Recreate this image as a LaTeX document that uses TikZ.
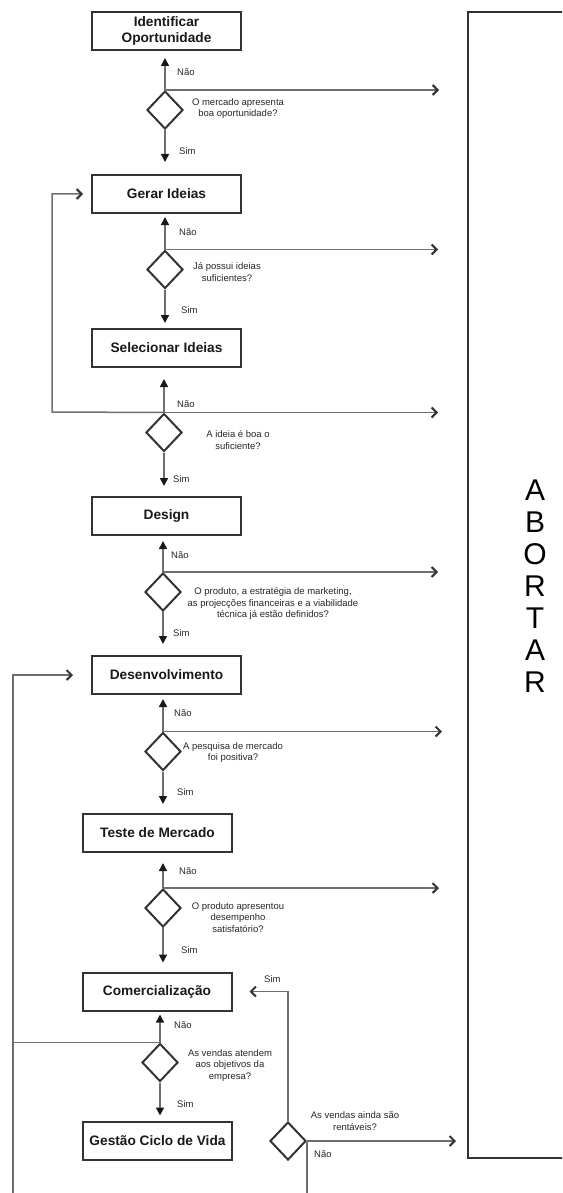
\documentclass[tikz,border=0pt]{standalone}
\usepackage{fontspec}
\setmainfont{Liberation Sans}
\usetikzlibrary{arrows.meta,shapes.geometric}
\definecolor{boxgray}{HTML}{333333}
\definecolor{linegray}{HTML}{6E6E6E}
\begin{document}
\begin{tikzpicture}[x=1pt,y=-1pt,
  stepbox/.style={draw=boxgray, line width=2pt, minimum width=149pt, minimum height=38pt, inner sep=0pt, font=\fontsize{13.7}{16}\selectfont\bfseries, align=center, text=black!90},
  decide/.style={draw=boxgray, line width=2pt, diamond, minimum width=36pt, minimum height=38pt, inner sep=0pt},
  conn/.style={draw=linegray, line width=1.5pt},
  fillarrow/.style={conn, -{Triangle[length=8pt,width=8pt,color=black!90]}},
  chev/.style={conn, -{Straight Barb[length=5pt,width=10pt,line width=2pt,color=black!80]}},
  lbl/.style={font=\fontsize{9.5}{11.5}\selectfont, anchor=west, inner sep=0pt, text=black!85},
  qtxt/.style={font=\fontsize{9.5}{11.5}\selectfont, align=center, inner sep=0pt, text=black!85},
]
\useasboundingbox (0,0) rectangle (562,1193);
\clip (0,0) rectangle (562,1193);

% ABORTAR box (right edge cut by the page)
\node[draw=boxgray, line width=2pt, minimum width=110pt, minimum height=1146pt, inner sep=0pt] (abbox) at (523,585) {};
\node[font=\fontsize{30}{32}\selectfont, align=center, inner sep=0pt] (abtxt) at (535,586.5) {A\\B\\O\\R\\T\\A\\R};

% step boxes
\node[stepbox] (b1) at (166.5,31) {Identificar\\Oportunidade};
\node[stepbox] (b2) at (166.5,194) {Gerar Ideias};
\node[stepbox] (b3) at (166.5,348) {Selecionar Ideias};
\node[stepbox] (b4) at (166.5,516) {Design};
\node[stepbox] (b5) at (166.5,675) {Desenvolvimento};
\node[stepbox] (b6) at (157.5,833) {Teste de Mercado};
\node[stepbox] (b7) at (157,991.5) {Comercialização};
\node[stepbox] (b8) at (157.5,1140.5) {Gestão Ciclo de Vida};

% decisions
\node[decide] (d1) at (165,110) {};
\node[decide] (d2) at (165,269.5) {};
\node[decide] (d3) at (164,432.5) {};
\node[decide] (d4) at (163,592) {};
\node[decide] (d5) at (163,751.5) {};
\node[decide] (d6) at (163,908) {};
\node[decide] (d7) at (160,1062.5) {};
\node[decide] (d8) at (288,1141) {};

% questions
\node[qtxt] (q1) at (238,108.5) {O mercado apresenta\\boa oportunidade?};
\node[qtxt] (q2) at (227,272) {Já possui ideias\\suficientes?};
\node[qtxt] (q3) at (238,440) {A ideia é boa o\\suficiente?};
\node[qtxt] (q4) at (273,603.5) {O produto, a estratégia de marketing,\\as projecções financeiras e a viabilidade\\técnica já estão definidos?};
\node[qtxt] (q5) at (233,752.5) {A pesquisa de mercado\\foi positiva?};
\node[qtxt] (q6) at (238,917.5) {O produto apresentou\\desempenho\\satisfatório?};
\node[qtxt] (q7) at (230,1065.5) {As vendas atendem\\aos objetivos da\\empresa?};
\node[qtxt] (q8) at (355,1121) {As vendas ainda são\\rentáveis?};

% labels
\node[lbl] (n1) at (177,72) {Não};
\node[lbl] (n2) at (179,232) {Não};
\node[lbl] (n3) at (177,404) {Não};
\node[lbl] (n4) at (171,555) {Não};
\node[lbl] (n5) at (174,713) {Não};
\node[lbl] (n6) at (179,871) {Não};
\node[lbl] (n7) at (174,1025) {Não};
\node[lbl] (n8) at (314,1154) {Não};
\node[lbl] (s1) at (179,151) {Sim};
\node[lbl] (s2) at (181,310) {Sim};
\node[lbl] (s3) at (173,479) {Sim};
\node[lbl] (s4) at (173,633) {Sim};
\node[lbl] (s5) at (177,792) {Sim};
\node[lbl] (s6) at (181,950) {Sim};
\node[lbl] (s7) at (177,1104) {Sim};
\node[lbl] (s8) at (264,979) {Sim};

% free-end coordinates
\coordinate (loopa) at (52,412);
\coordinate (loopb) at (13,1193);
\coordinate (d8end) at (307,1193);

% Não arrows (up)
\draw[fillarrow, shorten >=7pt] (d1.north) -- (d1.north |- b1.south);
\draw[fillarrow, shorten >=3pt] (d2.north) -- (d2.north |- b2.south);
\draw[fillarrow, shorten >=11pt] (d3.north) -- (d3.north |- b3.south);
\draw[fillarrow, shorten >=5pt] (d4.north) -- (d4.north |- b4.south);
\draw[fillarrow, shorten >=4pt] (d5.north) -- (d5.north |- b5.south);
\draw[fillarrow, shorten >=10pt] (d6.north) -- (d6.north |- b6.south);
\draw[fillarrow, shorten >=3pt] (d7.north) -- (d7.north |- b7.south);

% Sim arrows (down)
\draw[fillarrow, shorten >=12pt] (d1.south) -- (d1.south |- b2.north);
\draw[fillarrow, shorten >=5pt] (d2.south) -- (d2.south |- b3.north);
\draw[fillarrow, shorten >=10pt] (d3.south) -- (d3.south |- b4.north);
\draw[fillarrow, shorten >=11pt] (d4.south) -- (d4.south |- b5.north);
\draw[fillarrow, shorten >=9pt] (d5.south) -- (d5.south |- b6.north);
\draw[fillarrow, shorten >=9pt] (d6.south) -- (d6.south |- b7.north);
\draw[fillarrow, shorten >=5pt] (d7.south) -- (d7.south |- b8.north);

% abort arrows
\draw[chev, shorten >=28pt] (d1.north) -- (d1.north -| abbox.west);
\draw[chev, shorten >=29pt] (d2.north) -- (d2.north -| abbox.west);
\draw[chev, shorten >=29pt] (d3.north) -- (d3.north -| abbox.west);
\draw[chev, shorten >=29pt] (d4.north) -- (d4.north -| abbox.west);
\draw[chev, shorten >=25pt] (d5.north) -- (d5.north -| abbox.west);
\draw[chev, shorten >=28pt] (d6.north) -- (d6.north -| abbox.west);
\draw[chev, shorten >=11pt] (d8.east) -- (d8.east -| abbox.west);

% loops
\draw[chev, shorten >=8pt] (d3.north) -- (loopa) |- (b2.west);
\draw[chev, shorten >=18pt] (loopb) |- (b5.west);
\draw[conn] (d7.north) -- (d7.north -| loopb);
\draw[chev, shorten >=17pt] (d8.north) |- (b7.east);
\draw[conn] (d8.east) -- (d8end);
\end{tikzpicture}
\end{document}
